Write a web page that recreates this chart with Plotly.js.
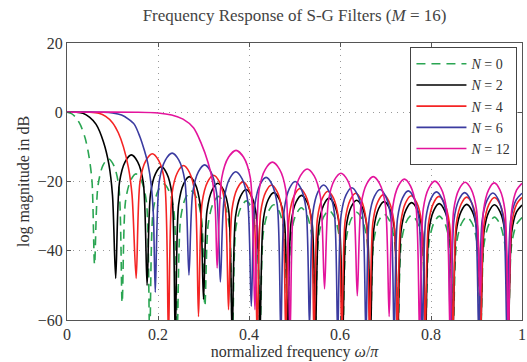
<!DOCTYPE html>
<html><head><meta charset="utf-8">
<script src="https://cdn.plot.ly/plotly-3.0.1.min.js"></script>
<style>html,body{margin:0;padding:0;background:#fff;}#chart{width:527px;height:362px;}</style>
</head><body><div id="chart"></div>
<script>
// normalized frequency (omega/pi) and log magnitude (dB)
const xN0 = [0,0.01,0.02,0.03,0.04,0.048,0.055,
0.0606,0.0679,0.0788,0.0909,0.1030,0.1139,
0.1212,0.1285,0.1394,0.1515,0.1636,0.1745,
0.1818,0.1891,0.2000,0.2121,0.2242,0.2351,
0.2424,0.2497,0.2606,0.2727,0.2848,0.2957,
0.3030,0.3103,0.3212,0.3333,0.3454,0.3563,
0.3636,0.3709,0.3818,0.3939,0.4060,0.4169,
0.4242,0.4315,0.4424,0.4545,0.4666,0.4775,
0.4848,0.4921,0.5030,0.5151,0.5272,0.5381,
0.5455,0.5528,0.5637,0.5758,0.5879,0.5988,
0.6061,0.6134,0.6243,0.6364,0.6485,0.6594,
0.6667,0.6740,0.6849,0.6970,0.7091,0.7200,
0.7273,0.7346,0.7455,0.7576,0.7697,0.7806,
0.7879,0.7952,0.8061,0.8182,0.8303,0.8412,
0.8485,0.8558,0.8667,0.8788,0.8909,0.9018,
0.9091,0.9164,0.9273,0.9394,0.9515,0.9624,
0.9697,0.9770,0.9879,1.0];
const yN0 = [0,-0.4,-1.6,-3.8,-7.5,-12.5,-20,
-44,-21.4,-15.4,-13.4,-15.4,-21.4,
-55,-25.8,-19.8,-17.8,-19.8,-25.8,
-65,-28.7,-22.7,-20.7,-22.7,-28.7,
-62,-30.7,-24.7,-22.7,-24.7,-30.7,
-56,-32.3,-26.3,-24.3,-26.3,-32.3,
-65,-33.6,-27.6,-25.6,-27.6,-33.6,
-65,-34.7,-28.7,-26.7,-28.7,-34.7,
-65,-35.6,-29.6,-27.6,-29.6,-35.6,
-65,-36.3,-30.3,-28.3,-30.3,-36.3,
-65,-36.9,-30.9,-28.9,-30.9,-36.9,
-65,-37.4,-31.4,-29.4,-31.4,-37.4,
-65,-37.7,-31.7,-29.7,-31.7,-37.7,
-65,-38.0,-32.0,-30.0,-32.0,-38.0,
-65,-38.2,-32.2,-30.2,-32.2,-38.2,
-65,-38.3,-32.3,-30.3,-32.3,-38.3,
-65,-38.4,-32.4,-30.4];

const xN2 = [0,0.02,0.035,0.05,0.064,0.08,0.092,0.1,
0.107,0.1153,0.1277,0.1415,0.1553,0.1677,
0.176,0.1834,0.1946,0.207,0.2194,0.2306,
0.238,0.2454,0.2566,0.269,0.2814,0.2926,
0.300,0.3076,0.3189,0.3315,0.3441,0.3554,
0.363,0.3703,0.3813,0.3935,0.4057,0.4167,
0.424,0.4313,0.4423,0.4545,0.4667,0.4777,
0.485,0.4923,0.5033,0.5155,0.5277,0.5387,
0.546,0.5532,0.564,0.576,0.588,0.5988,
0.606,0.6133,0.6243,0.6365,0.6487,0.6597,
0.667,0.6742,0.685,0.697,0.709,0.7198,
0.727,0.7343,0.7453,0.7575,0.7697,0.7807,
0.788,0.7952,0.806,0.818,0.830,0.8408,
0.848,0.8553,0.8663,0.8785,0.8907,0.9017,
0.909,0.9163,0.9273,0.9395,0.9517,0.9627,
0.970,0.9772,0.988,1.0];
const yN2 = [0,0,-0.3,-1.5,-3.5,-8.5,-15,-24,
-48,-20.3,-14.3,-12.3,-14.3,-20.3,
-50,-23.7,-17.7,-15.7,-17.7,-23.7,
-65,-26.6,-20.6,-18.6,-20.6,-26.6,
-54,-28.5,-22.5,-20.5,-22.5,-28.5,
-65,-30.3,-24.3,-22.3,-24.3,-30.3,
-65,-31.2,-25.2,-23.2,-25.2,-31.2,
-65,-32.0,-26.0,-24.0,-26.0,-32.0,
-65,-32.8,-26.8,-24.8,-26.8,-32.8,
-65,-33.4,-27.4,-25.4,-27.4,-33.4,
-65,-33.8,-27.8,-25.8,-27.8,-33.8,
-65,-34.1,-28.1,-26.1,-28.1,-34.1,
-65,-34.4,-28.4,-26.4,-28.4,-34.4,
-65,-34.6,-28.6,-26.6,-28.6,-34.6,
-65,-34.7,-28.7,-26.7,-28.7,-34.7,
-65,-34.8,-28.8,-26.8];

const xN4 = [0,0.05,0.07,0.085,0.1,0.113,0.124,0.135,0.143,
0.152,0.1605,0.1733,0.1875,0.2017,0.2145,
0.223,0.2309,0.2428,0.256,0.2692,0.2811,
0.289,0.2969,0.3088,0.322,0.3352,0.3471,
0.355,0.3626,0.3739,0.3865,0.3991,0.4104,
0.418,0.4256,0.4369,0.4495,0.4621,0.4734,
0.481,0.4884,0.4996,0.512,0.5244,0.5356,
0.543,0.5503,0.5613,0.5735,0.5857,0.5967,
0.604,0.6113,0.6223,0.6345,0.6467,0.6577,
0.665,0.6723,0.6833,0.6955,0.7077,0.7187,
0.726,0.7333,0.7443,0.7565,0.7687,0.7797,
0.787,0.7943,0.8053,0.8175,0.8297,0.8407,
0.848,0.8553,0.8663,0.8785,0.8907,0.9017,
0.909,0.9163,0.9273,0.9395,0.9517,0.9627,
0.970,0.9772,0.988,1.0];
const yN4 = [0,0,-0.3,-1.2,-3,-6,-10,-16,-24,
-48,-20.0,-14.0,-12.0,-14.0,-20.0,
-65,-23.4,-17.4,-15.4,-17.4,-23.4,
-59,-26.2,-20.2,-18.2,-20.2,-26.2,
-57,-28.1,-22.1,-20.1,-22.1,-28.1,
-65,-29.0,-23.0,-21.0,-23.0,-29.0,
-65,-30.0,-24.0,-22.0,-24.0,-30.0,
-65,-30.8,-24.8,-22.8,-24.8,-30.8,
-65,-31.4,-25.4,-23.4,-25.4,-31.4,
-65,-31.8,-25.8,-23.8,-25.8,-31.8,
-65,-32.1,-26.1,-24.1,-26.1,-32.1,
-65,-32.3,-26.3,-24.3,-26.3,-32.3,
-65,-32.5,-26.5,-24.5,-26.5,-32.5,
-65,-32.6,-26.6,-24.6,-26.6,-32.6,
-65,-32.6,-26.6,-24.6];

const xN6 = [0,0.08,0.1,0.12,0.135,0.148,0.16,0.17,0.178,0.185,0.19,
0.194,0.2029,0.2162,0.231,0.2458,0.2591,
0.268,0.2763,0.2887,0.3025,0.3163,0.3287,
0.337,0.3452,0.3574,0.371,0.3846,0.3968,
0.405,0.4128,0.4245,0.4375,0.4505,0.4622,
0.470,0.4776,0.4889,0.5015,0.5141,0.5254,
0.533,0.5404,0.5516,0.564,0.5764,0.5876,
0.595,0.6024,0.6136,0.626,0.6384,0.6496,
0.657,0.6644,0.6756,0.688,0.7004,0.7116,
0.719,0.7264,0.7376,0.750,0.7624,0.7736,
0.781,0.7884,0.7996,0.812,0.8244,0.8356,
0.843,0.8504,0.8616,0.874,0.8864,0.8976,
0.905,0.9124,0.9236,0.936,0.9484,0.9596,
0.967,0.9749,0.9868,1.0];
const yN6 = [0,0,-0.2,-0.8,-2,-3.5,-7,-11,-15,-21,-30,
-52,-19.8,-13.8,-11.8,-13.8,-19.8,
-47,-23.2,-17.2,-15.2,-17.2,-23.2,
-49,-25.2,-19.2,-17.2,-19.2,-25.2,
-56,-26.8,-20.8,-18.8,-20.8,-26.8,
-65,-28.0,-22.0,-20.0,-22.0,-28.0,
-62,-29.0,-23.0,-21.0,-23.0,-29.0,
-65,-29.8,-23.8,-21.8,-23.8,-29.8,
-65,-30.3,-24.3,-22.3,-24.3,-30.3,
-65,-30.7,-24.7,-22.7,-24.7,-30.7,
-65,-31.0,-25.0,-23.0,-25.0,-31.0,
-65,-31.2,-25.2,-23.2,-25.2,-31.2,
-65,-31.3,-25.3,-23.3,-25.3,-31.3,
-65,-31.4,-25.4,-23.4];

const xN12 = [0,0.15,0.2,0.23,0.255,0.278,0.295,0.31,0.32,0.326,
0.330,0.340,0.3549,0.3715,0.3881,0.403,
0.413,0.4222,0.4361,0.4515,0.4669,0.4808,
0.490,0.4991,0.5128,0.528,0.5432,0.5569,
0.566,0.5746,0.5876,0.602,0.6164,0.6294,
0.638,0.6464,0.659,0.673,0.687,0.6996,
0.708,0.716,0.7281,0.7415,0.7549,0.767,
0.775,0.783,0.7951,0.8085,0.8219,0.834,
0.842,0.8499,0.8618,0.875,0.8882,0.9001,
0.908,0.9154,0.9266,0.939,0.9514,0.9626,
0.970,0.9772,0.988,1.0];
const yN12 = [0,0,-0.2,-0.8,-2,-4.5,-9,-14.5,-20,-28,
-45,-19,-13,-11,-13,-19,
-57,-22.4,-16.4,-14.4,-16.4,-22.4,
-65,-24.4,-18.4,-16.4,-18.4,-24.4,
-51,-25.6,-19.6,-17.6,-19.6,-25.6,
-53,-26.6,-20.6,-18.6,-20.6,-26.6,
-59,-27.3,-21.3,-19.3,-21.3,-27.3,
-65,-27.9,-21.9,-19.9,-21.9,-27.9,
-65,-28.2,-22.2,-20.2,-22.2,-28.2,
-53,-28.4,-22.4,-20.4,-22.4,-28.4,
-65,-28.5,-22.5,-20.5];

const seriesNames = ['<i>N</i> = 0','<i>N</i> = 2','<i>N</i> = 4','<i>N</i> = 6','<i>N</i> = 12'];
const xTicks = [0,0.2,0.4,0.6,0.8,1];
const xTickText = ['0','0.2','0.4','0.6','0.8','1'];
const yTicks = [20,0,-20,-40,-60];
const yTickText = ['20','0','\u221220','\u221240','\u221260'];

const colors = ['#2aa552','#000000','#f42424','#3b3ba0','#e3149c'];
const xs = [xN0,xN2,xN4,xN6,xN12];
const ys = [yN0,yN2,yN4,yN6,yN12];

const traces = xs.map((x,i)=>({
  x:x, y:ys[i], type:'scatter', mode:'lines', name:seriesNames[i],
  line:{color:colors[i], width:1.6, shape:'spline', smoothing:0.8, dash: i===0 ? '9px,6px' : 'solid'}
}));

const font = 'Liberation Serif, Times New Roman, serif';
const layout = {
  width:527, height:362,
  margin:{l:67,r:5,t:43,b:42},
  paper_bgcolor:'#fff', plot_bgcolor:'#fff',
  font:{family:font, color:'#333', size:15},
  title:{text:'Frequency Response of S-G Filters (<i>M</i> = 16)', x:0.5, xref:'paper', y:0.958, yref:'container', yanchor:'middle', font:{family:font,size:17,color:'#444'}},
  showlegend:true,
  legend:{x:0.99, xanchor:'right', y:0.985, yanchor:'top', bgcolor:'#fff', bordercolor:'#444', borderwidth:1,
    font:{family:font,size:14,color:'#333'}, itemwidth:50, tracegroupgap:0},
  xaxis:{range:[0,1], tickvals:xTicks, ticktext:xTickText, showgrid:true, gridcolor:'#999', griddash:'1px,5px', gridwidth:1,
    zeroline:false, showline:true, linecolor:'#555', linewidth:1, mirror:'ticks', ticks:'inside', ticklen:4, tickcolor:'#555',
    tickfont:{family:font,size:16,color:'#333'},
    title:{text:'normalized frequency <i>ω</i>/<i>π</i>', font:{family:font,size:16,color:'#333'}, standoff:2}},
  yaxis:{range:[-60,20], tickvals:yTicks, ticktext:yTickText, showgrid:true, gridcolor:'#999', griddash:'1px,5px', gridwidth:1,
    zeroline:false, showline:true, linecolor:'#555', linewidth:1, mirror:'ticks', ticks:'inside', ticklen:4, tickcolor:'#555',
    tickfont:{family:font,size:16,color:'#333'},
    title:{text:'log magnitude in dB', font:{family:font,size:16,color:'#333'}, standoff:4}}
};
Plotly.newPlot('chart', traces, layout, {staticPlot:true, displayModeBar:false});
</script></body></html>
